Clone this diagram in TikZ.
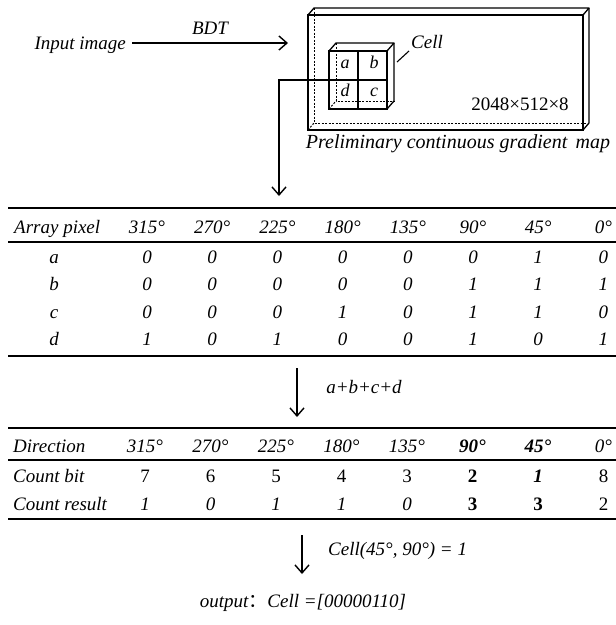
\documentclass[tikz,border=0pt]{standalone}
\usepackage{fontspec}
\setmainfont{Liberation Serif}
\newfontfamily\cjk{Noto Sans CJK SC}
\usetikzlibrary{arrows.meta}
\tikzset{
  txt/.style={font=\fontsize{19}{22}\selectfont\itshape, inner sep=0pt, anchor=base},
  upt/.style={font=\fontsize{19}{22}\selectfont, inner sep=0pt, anchor=base},
  captxt/.style={font=\fontsize{20}{22}\selectfont\itshape, inner sep=0pt, anchor=base},
  smalltxt/.style={font=\fontsize{18}{20}\selectfont\itshape, inner sep=0pt, anchor=base},
  arr/.style={line width=1.4pt, -{Straight Barb[length=8pt,width=14pt,line width=1.4pt]}},
  edge/.style={line width=1.3pt},
  hid/.style={line width=1pt, dash pattern=on 2pt off 1.5pt},
  thickrule/.style={line width=1.8pt},
  thinrule/.style={line width=1.1pt}
}
\begin{document}
\begin{tikzpicture}[x=1pt,y=-1pt]
\useasboundingbox (0,0) rectangle (616,625);

% ---------- top part ----------
\node[txt,anchor=base east] (input) at (126,49) {Input image};
\coordinate (bdtend) at (288,43);
\draw[arr] (input.east |- 0,43) ++(6,0) coordinate (bdtstart) -- (bdtend);
\node[txt] (bdt) at (210,34) {BDT};

% big box (front 308..583 x 15..130, depth (6,-7))
\draw[hid] (314,8) -- (314,123) -- (589,123);
\draw[hid] (308,130) -- (314,123);
\draw[edge] (308,15) rectangle (583,130);
\draw[edge,line join=round] (308,15) -- (314,8) -- (589,8) -- (583,15);
\draw[edge,line join=round] (589,8) -- (589,123) -- (583,130);
\node[upt] (dims) at (520,110) {2048×512×8};
\node[captxt] (caption) at (458,148) {Preliminary continuous gradient\, map};

% cell cube (front 329..387 x 51..109, depth (7,-8))
\draw[hid] (336,43) -- (336,101) -- (394,101);
\draw[hid] (329,109) -- (336,101);
\draw[edge] (329,51) rectangle (387,109);
\draw[edge] (358,51) -- (358,109);
\draw[edge] (329,80) -- (387,80);
\draw[edge,line join=round] (329,51) -- (336,43) -- (394,43) -- (387,51);
\draw[edge,line join=round] (394,43) -- (394,101) -- (387,109);
\node[smalltxt] (ca) at (345,68) {a};
\node[smalltxt] (cb) at (374,68) {b};
\node[smalltxt] (cd) at (345,96) {d};
\node[smalltxt] (cc) at (374,96) {c};
\coordinate (cellleft) at (329,80);
\node[txt,anchor=base west] (celllbl) at (411,48) {Cell};
\draw[line width=1.1pt] (397,62) -- (409,51);

% connector to table 1
\coordinate (down1) at (279,196);
\draw[arr] (cellleft) -| (down1);

% ---------- table 1 ----------
\draw[thickrule] (8,208) -- (616,208);
\draw[thinrule] (8,242) -- (616,242);
\draw[thickrule] (8,356) -- (616,356);
\node[txt,anchor=base west] (h1) at (14,233) {Array pixel};
\foreach \d [count=\i] in {315,270,225,180,135,90,45,0}{
  \pgfmathsetmacro{\xx}{147+65.2*(\i-1)}
  \node[txt] (h1-\i) at (\xx,233) {\d°};
}
\foreach \lab/\yy/\vals in {a/263/{0,0,0,0,0,0,1,0},
                           b/290.5/{0,0,0,0,0,1,1,1},
                           c/318/{0,0,0,1,0,1,1,0},
                           d/345.5/{1,0,1,0,0,1,0,1}}{
  \node[txt] (r-\lab) at (54,\yy) {\lab};
  \foreach \v [count=\i] in \vals {
    \pgfmathsetmacro{\xx}{147+65.2*(\i-1)}
    \node[txt] (v-\lab-\i) at (\xx,\yy) {\v};
  }
}

% arrow 2
\coordinate (a2s) at (297,368);
\coordinate (a2e) at (297,417);
\draw[arr] (a2s) -- (a2e);
\node[txt] (sumlbl) at (364,393) {a+b+c+d};

% ---------- table 2 ----------
\draw[thickrule] (8,428) -- (616,428);
\draw[thinrule] (8,460) -- (616,460);
\draw[thickrule] (8,519) -- (616,519);
\node[txt,anchor=base west] (h2) at (13,452) {Direction};
\node[txt,anchor=base west] (cb2) at (13,482) {Count bit};
\node[txt,anchor=base west] (cr2) at (13,510) {Count result};
\foreach \d [count=\i] in {315°,270°,225°,180°,135°,\textbf{90°},\textbf{45°},0°}{
  \pgfmathsetmacro{\xx}{145+65.5*(\i-1)}
  \node[txt] (d-\i) at (\xx,452) {\d};
}
\foreach \d [count=\i] in {7,6,5,4,3,\textbf{2},\textbf{\itshape 1},8}{
  \pgfmathsetmacro{\xx}{145+65.5*(\i-1)}
  \node[upt] (b-\i) at (\xx,482) {\d};
}
\foreach \d [count=\i] in {1,0,1,1,0,{\upshape\bfseries 3},{\upshape\bfseries 3},{\upshape 2}}{
  \pgfmathsetmacro{\xx}{145+65.5*(\i-1)}
  \node[txt] (res-\i) at (\xx,510) {\d};
}

% arrow 3
\coordinate (a3s) at (302,535);
\coordinate (a3e) at (302,574);
\draw[arr] (a3s) -- (a3e);
\node[txt,anchor=base west] (celleq) at (328,555) {Cell(45°, 90°) = 1};

% output
\node[txt] (out) at (303,607) {output{\upshape\cjk ：}Cell =[00000110]};
\end{tikzpicture}
\end{document}
